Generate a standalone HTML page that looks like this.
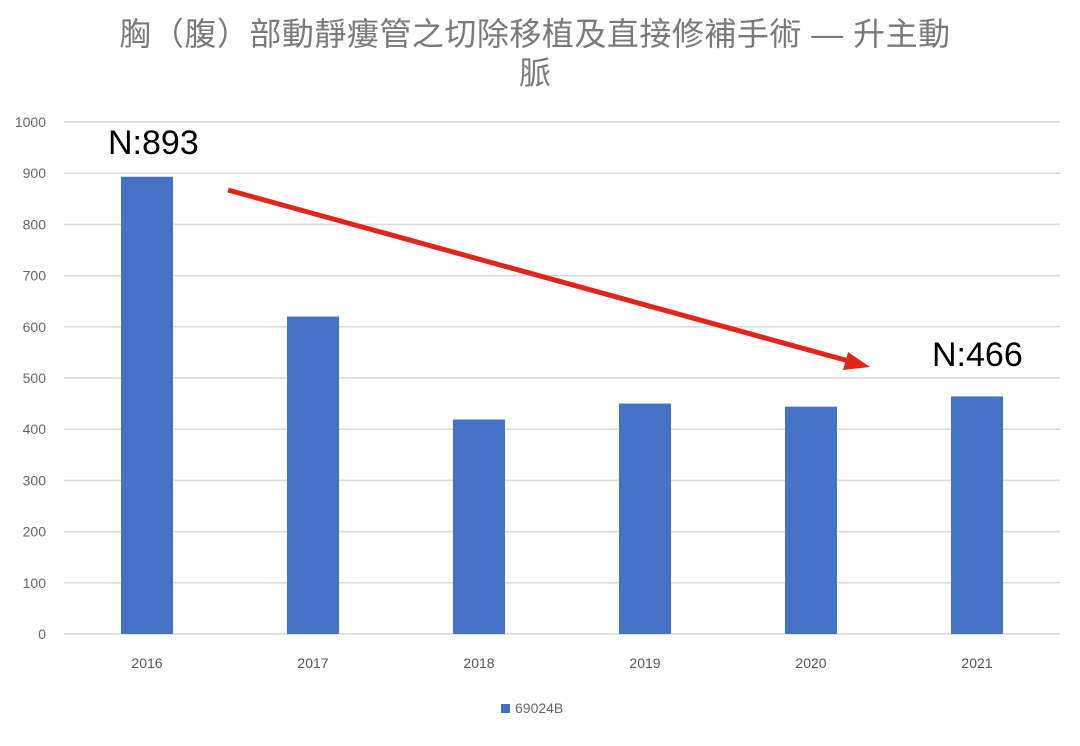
<!DOCTYPE html>
<html><head><meta charset="utf-8"><style>
html,body{margin:0;padding:0;background:#fff;}
body{width:1080px;height:741px;overflow:hidden;font-family:"Liberation Sans","Noto Sans CJK TC",sans-serif;}
</style></head><body>
<svg id="chart" width="1080" height="741" xmlns="http://www.w3.org/2000/svg">
<text x="535" y="45" text-anchor="middle" font-size="32" letter-spacing="0.5" fill="#7a7a7a" font-family="'Liberation Sans','Noto Sans CJK TC',sans-serif">胸（腹）部動靜瘻管之切除移植及直接修補手術 — 升主動</text>
<text x="535" y="84" text-anchor="middle" font-size="32" fill="#7a7a7a" font-family="'Liberation Sans','Noto Sans CJK TC',sans-serif">脈</text>
<g id="grid"></g><g id="bars"></g><g id="xlabels"></g>
<rect x="501" y="704" width="9" height="9" fill="#4472c4"/>
<text x="515" y="713" font-size="14" fill="#666">69024B</text>
<text x="108" y="154" font-size="34" fill="#000">N:893</text>
<text x="932" y="366" font-size="34" fill="#000">N:466</text>
<line x1="228" y1="190" x2="856" y2="363" stroke="#e0261b" stroke-width="5"/>
<polygon points="870,367 848,352 843,370" fill="#e0261b"/>
</svg>
<script>
const categories=["2016","2017","2018","2019","2020","2021"];
const values=[893,620,419,450,444,464];
const yTicks=[0,100,200,300,400,500,600,700,800,900,1000];
const NS="http://www.w3.org/2000/svg";
const x0=64,x1=1060,y0=634,y1=122,yMax=1000;
const band=(x1-x0)/categories.length;
function y(v){return y0-(v/yMax)*(y0-y1);}
function xc(i){return x0+band*(i+0.5);}
function mk(t,a,p){const e=document.createElementNS(NS,t);for(const k in a)e.setAttribute(k,a[k]);p.appendChild(e);return e;}
const grid=document.getElementById('grid');
yTicks.forEach(t=>{
 const l=mk('line',{x1:x0,x2:x1,y1:y(t),y2:y(t),stroke:'#d9d9d9','stroke-width':1.5},grid);
 
 
 const tx=mk('text',{x:46,y:y(t)+5,'text-anchor':'end','font-size':14,fill:'#666'},grid);
 tx.textContent=t;
 
 
});
const bars=document.getElementById('bars'),xl=document.getElementById('xlabels');
categories.forEach((c,i)=>{
 const b=mk('rect',{x:xc(i)-26,y:y(values[i]),width:52,height:y0-y(values[i]),fill:'#4472c4'},bars);
 
 
 const t=mk('text',{x:xc(i),y:668,'text-anchor':'middle','font-size':14,fill:'#555'},xl);
 t.textContent=c;
 
 
});
</script>
</body></html>
